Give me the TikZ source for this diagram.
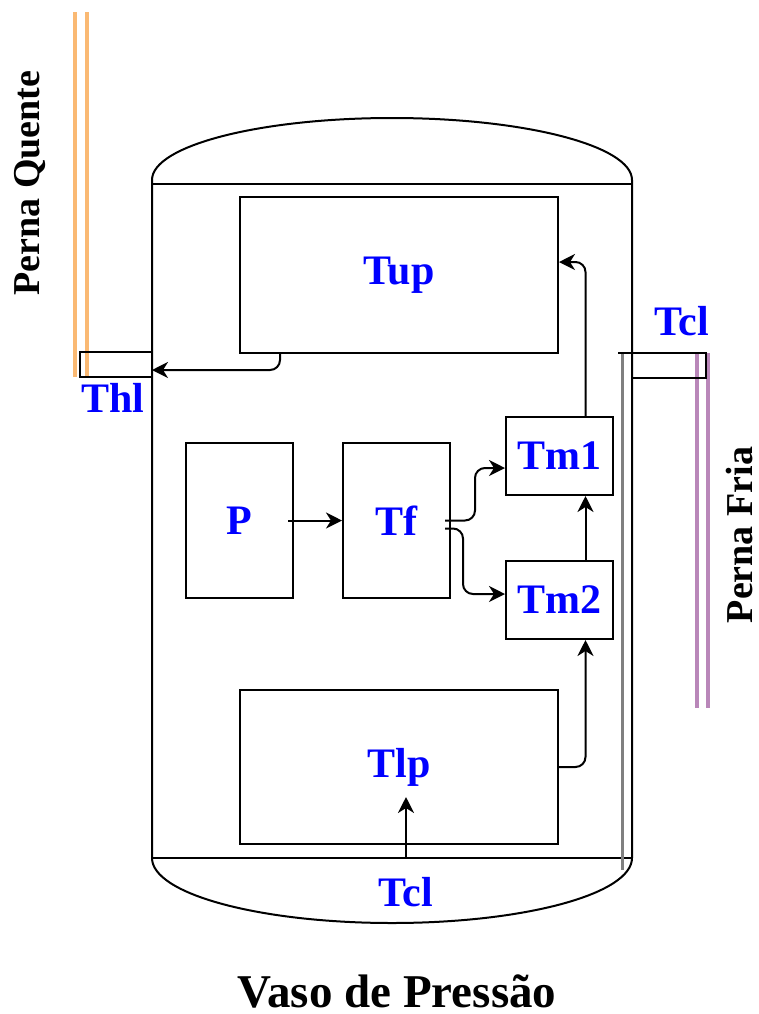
\documentclass[tikz,border=0pt]{standalone}
\usepackage{fontspec}
\setmainfont{Liberation Serif}
\usetikzlibrary{arrows.meta,positioning}

\definecolor{hotleg}{RGB}{250,185,115}
\definecolor{coldleg}{RGB}{185,135,185}

\begin{document}
\begin{tikzpicture}[
  x=0.5pt, y=-0.5pt,
  box/.style={draw, line width=1pt, inner sep=0pt, text=blue, font=\fontsize{21}{24}\selectfont\bfseries},
  wall/.style={line width=1pt},
  flow/.style={-{Stealth[length=8pt,width=8pt,inset=2.5pt]}, line width=1pt, rounded corners=5pt},
  tag/.style={inner sep=0pt, text=blue, font=\fontsize{21}{24}\selectfont\bfseries},
  leg/.style={inner sep=0pt, rotate=90, font=\fontsize{19}{22}\selectfont\bfseries}
]
\useasboundingbox (0,0) rectangle (759,1014);

% vessel
\draw[wall] (152,858) -- (152,180) .. controls (152,145.8) and (259.4,118) .. (392,118)
  .. controls (524.6,118) and (632,145.8) .. (632,180) -- (632,858);
\draw[wall] (152,858) .. controls (152,893.9) and (259.4,923) .. (392,923)
  .. controls (524.6,923) and (632,893.9) .. (632,858);
\draw[wall] (152,184) -- (632,184);
\draw[wall] (152,858) -- (632,858);

% legs
\draw[hotleg, line width=2pt] (75,12) -- (75,377) (87,12) -- (87,377);
\draw[line width=0.75pt] (152,352) -- (80,352) -- (80,377) -- (152,377);
\draw[gray, line width=1.5pt] (622,353) -- (622,870);
\draw[coldleg, line width=2pt] (697,353) -- (697,708) (708,353) -- (708,708);
\draw[line width=0.75pt] (618,353) -- (706,353) -- (706,378) -- (632,378);

\node[box, minimum width=159pt, minimum height=78pt] (tup) at (399,275) {Tup};
\node[box, minimum width=159pt, minimum height=77pt] (tlp) at (399,767) {Tlp};
\node[box, minimum width=53.5pt, minimum height=77.5pt] (p) at (239.5,520.5) {P};
\node[box, minimum width=53.5pt, minimum height=77.5pt, right=24pt of p] (tf) {Tf};
\node[box, minimum width=53.5pt, minimum height=39pt] (tma) at (559.5,456) {Tm1};
\node[box, minimum width=53.5pt, minimum height=39pt, below=32pt of tma] (tmb) {Tm2};

\node[tag] (thl) at (113,398) {Thl};
\node[tag] (tclr) at (682,321) {Tcl};
\node[tag] (tclb) at (406,892) {Tcl};
\node[leg] (quente) at (30,183) {Perna Quente};
\node[leg] (fria) at (739,535) {Perna Fria};
\node[inner sep=0pt, font=\fontsize{23.5}{27}\selectfont\bfseries] (vaso) at (397,991) {Vaso de Pressão};

\coordinate (hotin) at (152,370);
\coordinate (coldin) at (406,858);
\coordinate (tlpin) at (406,797);

\draw[flow] ([xshift=-3pt]p.east) -- (tf.west);
\draw[flow] ([xshift=-3pt]tf.east) -- ++(15pt,0) |- ([yshift=-6pt]tma.west);
\draw[flow] ([xshift=-3pt,yshift=-4pt]tf.east) -- ++(9pt,0) |- ([yshift=3pt]tmb.west);
\draw[flow] ([xshift=13pt]tmb.north) -- ([xshift=13pt]tma.south);
\draw[flow] (tlp.east) -| ([xshift=13pt]tmb.south);
\draw[flow] ([xshift=13pt]tma.north) |- ([yshift=6.5pt]tup.east);
\draw[flow] ([xshift=-59.5pt]tup.south) |- (hotin);
\draw[flow] (coldin) -- (tlpin);

\end{tikzpicture}
\end{document}
